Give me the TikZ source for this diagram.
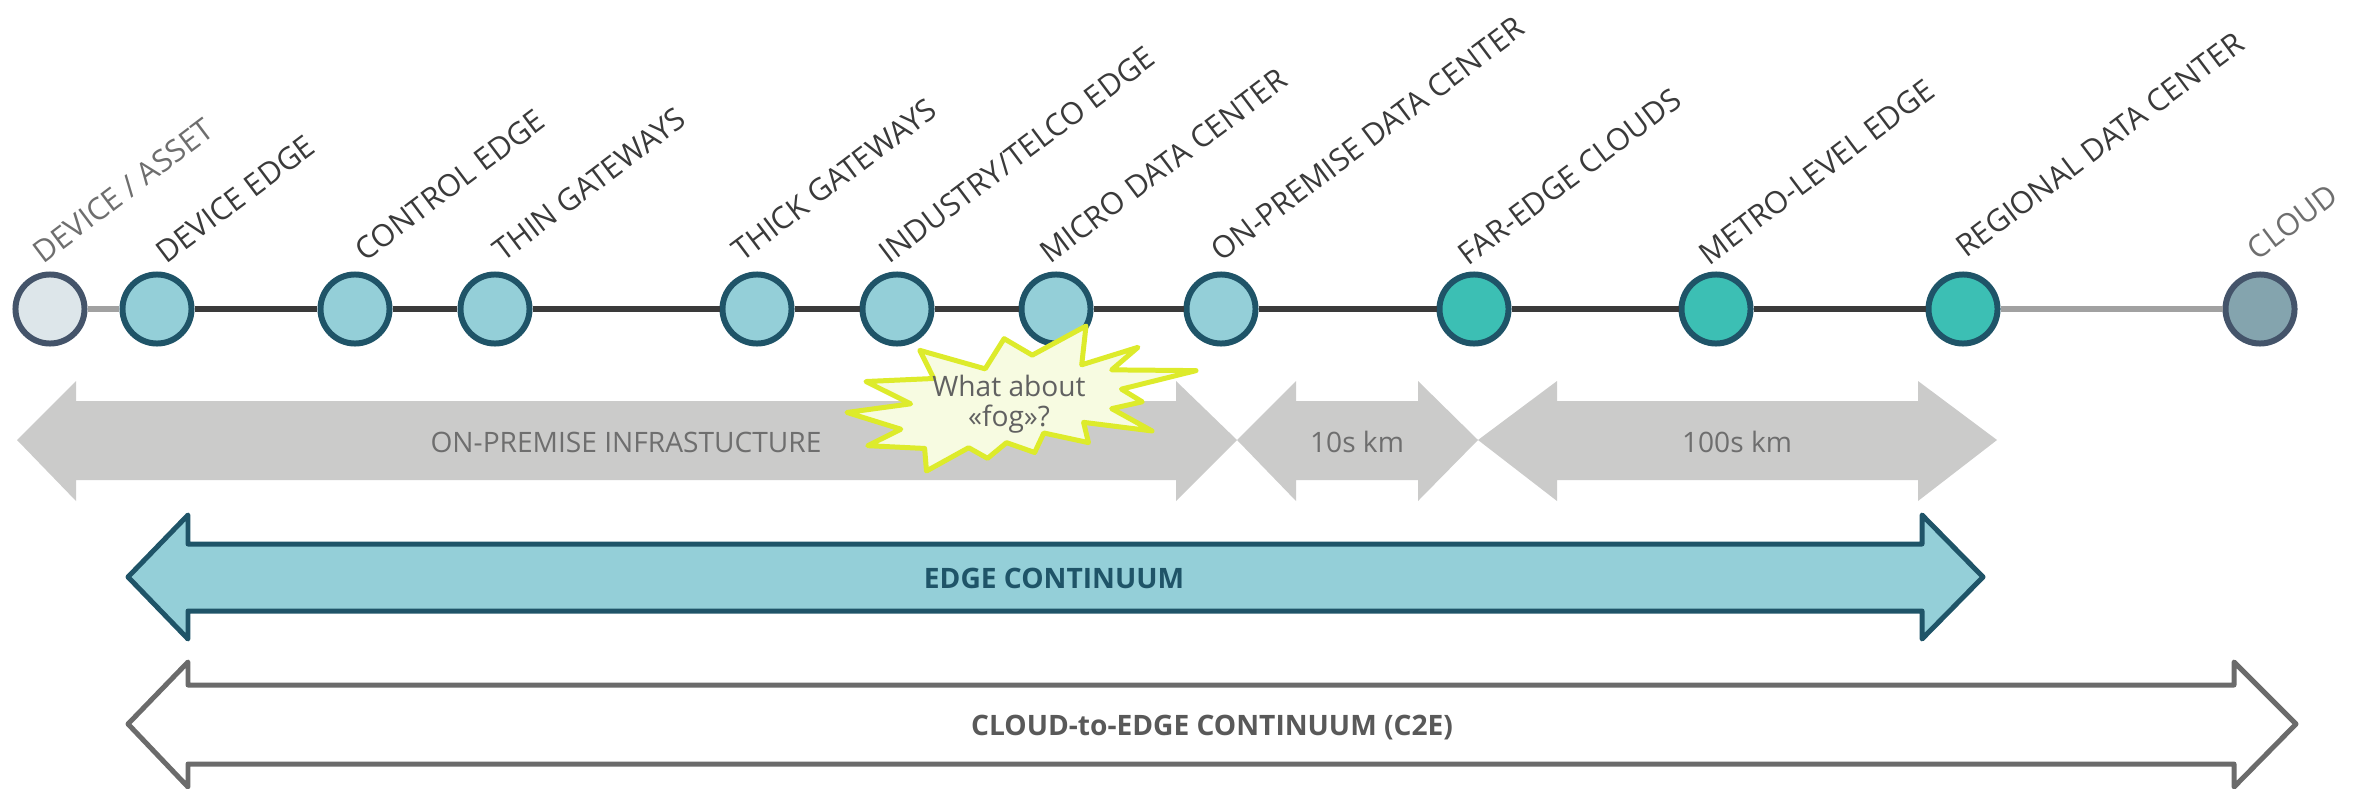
\documentclass[tikz,border=0pt]{standalone}
\usepackage{fontspec}
\setmainfont{Open Sans}
\usetikzlibrary{positioning}
\definecolor{rimteal}{HTML}{1F5468}
\definecolor{rimslate}{HTML}{44546A}
\definecolor{paleteal}{HTML}{94CFD8}
\definecolor{deepteal}{HTML}{3CBFB4}
\definecolor{assetfill}{HTML}{DDE6EA}
\definecolor{cloudfill}{HTML}{84A4AE}
\definecolor{bandgray}{HTML}{CBCBCA}
\definecolor{inkdark}{HTML}{3A3A3A}
\definecolor{inkdim}{HTML}{6E6E6E}
\definecolor{burstfill}{HTML}{F7FBE1}
\definecolor{burstrim}{HTML}{DDEB2B}

\begin{document}
\begin{tikzpicture}[x=0.01cm,y=-0.01cm,
  every node/.style={font=\fontsize{8}{9.6}\selectfont,inner sep=0pt},
  site/.style={circle,draw=rimteal,line width=1.7pt,minimum size=0.69cm,fill=paleteal},
  farsite/.style={site,fill=deepteal},
  assetsite/.style={site,draw=rimslate,fill=assetfill},
  cloudsite/.style={site,draw=rimslate,fill=cloudfill},
  tag/.style={rotate=37,anchor=base west,text=inkdark,font=\fontsize{8.7}{10}\selectfont},
  dimtag/.style={tag,text=inkdim},
  solidlink/.style={draw=inkdark,line width=1.45pt},
  faintlink/.style={draw=black!37,line width=1.45pt},
  band/.style={fill=bandgray},
  bandtext/.style={anchor=base,text=inkdim},
  edgearrow/.style={draw=rimteal,fill=paleteal,line width=1.42pt,line join=round},
  c2earrow/.style={draw=black!58,fill=white,line width=1.42pt,line join=round},
  burst/.style={draw=burstrim,fill=burstfill,line width=1.42pt,line join=round}]
\useasboundingbox (0,0) rectangle (2361,788);
% range bands
\fill[band] (17,440) -- (76,381) -- (76,401) -- (1176,401) -- (1176,381) -- (1237,440)
  -- (1176,501) -- (1176,480) -- (76,480) -- (76,501) -- cycle;
\fill[band] (1237,440) -- (1296,381) -- (1296,401) -- (1418,401) -- (1418,381) -- (1478,440)
  -- (1418,501) -- (1418,480) -- (1296,480) -- (1296,501) -- cycle;
\fill[band] (1478,440) -- (1557,381) -- (1557,401) -- (1918,401) -- (1918,381) -- (1997,440)
  -- (1918,501) -- (1918,480) -- (1557,480) -- (1557,501) -- cycle;
\node[bandtext] (infra) at (626,452) {ON-PREMISE INFRASTUCTURE};
\node[bandtext] (tens) at (1357,452) {10s km};
\node[bandtext] (hundreds) at (1737,452) {100s km};
\draw[edgearrow] (128,577) -- (188,515) -- (188,544) -- (1922,544) -- (1922,515) -- (1983,577)
  -- (1922,639) -- (1922,611) -- (188,611) -- (188,639) -- cycle;
\node[anchor=base,text=rimteal,font=\fontsize{8}{9.6}\selectfont\bfseries] (edge) at (1054,588) {EDGE CONTINUUM};
\draw[c2earrow] (128,724) -- (188,662) -- (188,685) -- (2234,685) -- (2234,662) -- (2296,724)
  -- (2234,787) -- (2234,764) -- (188,764) -- (188,787) -- cycle;
\node[anchor=base,text=black!65,font=\fontsize{8}{9.6}\selectfont\bfseries] (c2e) at (1212,735) {CLOUD-to-EDGE CONTINUUM (C2E)};
% sites
\node[assetsite] (asset) at (50,309) {};
\node[site] (dedge) at (157,309) {};
\node[site] (ctrl) at (355,309) {};
\node[site] (thin) at (495,309) {};
\node[site] (thick) at (757,309) {};
\node[site] (telco) at (897,309) {};
\node[site] (micro) at (1056,309) {};
\node[site] (onprem) at (1221,309) {};
\node[farsite] (faredge) at (1474,309) {};
\node[farsite] (metro) at (1716,309) {};
\node[farsite] (regional) at (1963,309) {};
\node[cloudsite] (cloud) at (2260,309) {};
\draw[faintlink] (asset) -- (dedge);
\draw[solidlink] (dedge) -- (ctrl);
\draw[solidlink] (ctrl) -- (thin);
\draw[solidlink] (thin) -- (thick);
\draw[solidlink] (thick) -- (telco);
\draw[solidlink] (telco) -- (micro);
\draw[solidlink] (micro) -- (onprem);
\draw[solidlink] (onprem) -- (faredge);
\draw[solidlink] (faredge) -- (metro);
\draw[solidlink] (metro) -- (regional);
\draw[faintlink] (regional) -- (cloud);
\node[dimtag] (assetlab) at (43,265) {DEVICE / ASSET};
\node[tag] (dedgelab) at (166,265) {DEVICE EDGE};
\node[tag] (ctrllab) at (365,263) {CONTROL EDGE};
\node[tag] (thinlab) at (503,263) {THIN GATEWAYS};
\node[tag] (thicklab) at (742,263) {THICK GATEWAYS};
\node[tag] (telcolab) at (889,265) {INDUSTRY/TELCO EDGE};
\node[tag] (microlab) at (1050,265) {MICRO DATA CENTER};
\node[tag] (onpremlab) at (1221,263) {ON-PREMISE DATA CENTER};
\node[tag] (faredgelab) at (1468,267) {FAR-EDGE CLOUDS};
\node[tag] (metrolab) at (1709,267) {METRO-LEVEL EDGE};
\node[tag] (regionallab) at (1966,259) {REGIONAL DATA CENTER};
\node[dimtag] (cloudlab) at (2257,262) {CLOUD};
% the fog burst
\begin{scope}[shift={(847,326)},xscale=0.016157,yscale=0.006713]
\draw[burst] (11462,4342) -- (14790,0) -- (14525,5777) -- (18007,3172) -- (16380,6532)
  -- (21600,6645) -- (16985,9402) -- (18270,11290) -- (16380,12310) -- (18877,15632)
  -- (14640,14350) -- (14942,17370) -- (12180,15935) -- (11612,18842) -- (9872,17370)
  -- (8700,19712) -- (7527,18125) -- (4917,21600) -- (4805,18240) -- (1285,17825)
  -- (3330,15370) -- (0,12877) -- (3935,11592) -- (1172,8270) -- (5372,7817)
  -- (4502,3625) -- (8550,6382) -- (9722,1887) -- cycle;
\end{scope}
\node[align=center,text=black!62,font=\fontsize{8}{8.5}\selectfont] (fog) at (1009,404) {What about\\«fog»?};
\end{tikzpicture}
\end{document}
